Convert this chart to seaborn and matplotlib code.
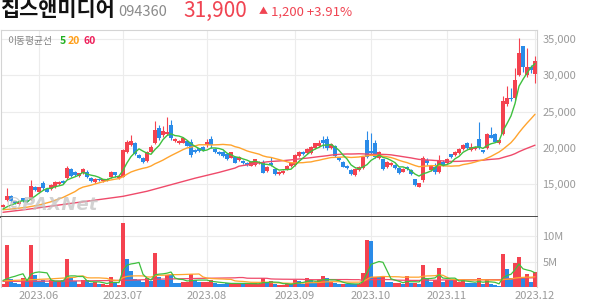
import numpy as np
import pandas as pd
import matplotlib
matplotlib.use("Agg")
import matplotlib.pyplot as plt
import seaborn as sns

# ---------------- data ----------------
opens = [11870, 12800, 13350, 12600, 12250, 13000, 12800, 12950, 14650, 13900,
         15150, 14300, 14300, 14600, 14950, 15400, 15800, 17100, 16650, 16100,
         16500, 16650, 15850, 15300, 15750, 15350, 15450, 15950, 16600, 15850,
         16000, 19350, 20400, 20650, 19000, 18650, 18200, 19450, 20650, 22700,
         21750, 21900, 23150, 20950, 20650, 20700, 20950, 20850, 19700, 19900,
         20150, 20400, 21200, 19850, 19400, 19400, 19150, 18650, 18750, 18300,
         18200, 17950, 17550, 17600, 17850, 18050, 16800, 17950, 17050, 16350,
         16500, 17050, 17450, 17650, 18850, 19450, 19300, 19300, 19950, 20200,
         21050, 21200, 19950, 20200, 18600, 18050, 17550, 16950, 16250, 16950,
         17200, 21000, 19550, 20700, 18600, 18400, 17350, 17600, 17650, 17200,
         16700, 17400, 16950, 15650, 14650, 15550, 18300, 16950, 17400, 16650,
         18100, 17850, 19100, 19000, 19250, 19800, 20700, 19700, 19850, 21200,
         19650, 19950, 21750, 21900, 20600, 21850, 26000, 26900, 26800, 30050,
         34050, 30050, 31100, 30200]
highs = [12250, 14450, 13450, 12700, 12500, 13100, 12900, 15550, 14750, 14650,
         15400, 14400, 14950, 15350, 15350, 15500, 17500, 17200, 16750, 16550,
         17150, 16950, 15950, 15800, 15850, 15750, 15800, 16750, 16700, 16250,
         19800, 21050, 21750, 20800, 19100, 18750, 19550, 20400, 23700, 23150,
         23050, 24200, 23850, 21400, 21050, 21500, 21050, 21200, 19800, 20000,
         20250, 21200, 21650, 19950, 19500, 19500, 19250, 19450, 18850, 18800,
         18300, 18050, 18200, 18500, 18200, 18300, 17500, 18700, 17150, 16750,
         16900, 17600, 17950, 19100, 19550, 19550, 19900, 20300, 20700, 21050,
         21600, 21650, 20600, 20350, 18700, 18150, 17650, 17050, 17150, 17500,
         18850, 22350, 22050, 21050, 19550, 18500, 18200, 18050, 17750, 17300,
         17150, 17500, 17050, 15750, 15200, 18850, 18550, 17650, 17850, 19000,
         18300, 18550, 19200, 19550, 19900, 20500, 20800, 20650, 20250, 23500,
         19750, 22000, 22900, 22000, 21150, 27200, 28550, 28200, 30950, 35100,
         34100, 33700, 31400, 32700]
lows = [11800, 12700, 12500, 12250, 12150, 12500, 12450, 12800, 14100, 13800,
        14200, 13850, 14200, 14500, 14850, 15050, 15700, 16000, 16150, 16000,
        16400, 15850, 15300, 15200, 15400, 15250, 15350, 15850, 15950, 15750,
        15900, 19250, 20300, 19000, 18550, 17950, 18100, 19350, 20550, 21050,
        21500, 21800, 21050, 20850, 20550, 20600, 20200, 18750, 19300, 19400,
        19600, 20150, 19950, 19300, 19050, 18750, 18350, 18550, 17850, 18200,
        17750, 17500, 17450, 17500, 17750, 16450, 16700, 17450, 16300, 16250,
        16400, 16950, 17350, 17550, 18750, 19050, 19200, 19200, 19850, 20050,
        20000, 19700, 19850, 18750, 18200, 17300, 17100, 16300, 16150, 16850,
        17100, 18600, 19200, 18550, 18500, 16950, 17250, 17500, 17100, 16400,
        16600, 16950, 16300, 14700, 14550, 15300, 17600, 16850, 16350, 16500,
        17450, 17750, 18650, 18900, 19150, 19700, 19850, 19600, 19750, 19850,
        19250, 19850, 21300, 20750, 20500, 21750, 25800, 26500, 26600, 29900,
        30500, 29800, 30300, 29000]
closes = [12150, 13350, 12650, 12350, 12450, 12600, 12550, 14750, 14200, 14550,
          14450, 13950, 14850, 15250, 15250, 15150, 17200, 16100, 16250, 16450,
          17050, 15950, 15400, 15700, 15500, 15650, 15700, 16600, 16300, 16150,
          19700, 20850, 20900, 19150, 18650, 18100, 19450, 20150, 22450, 21300,
          22300, 22200, 21350, 21250, 20950, 21300, 20300, 19000, 19400, 19500,
          19700, 20850, 20400, 19400, 19150, 18850, 18450, 19350, 17950, 18700,
          17850, 17600, 18100, 18400, 18100, 16550, 17400, 17600, 16400, 16650,
          16800, 17500, 17850, 19000, 19450, 19150, 19800, 20100, 20600, 20650,
          20600, 19900, 20500, 18900, 18300, 17400, 17200, 16400, 17050, 17400,
          18750, 18750, 19300, 18750, 19450, 17050, 18100, 17950, 17200, 16500,
          17050, 17050, 16400, 14850, 15100, 18650, 17850, 17550, 16700, 18200,
          17550, 18450, 18750, 19450, 19800, 20400, 19950, 20150, 20150, 19950,
          19350, 21900, 21400, 20850, 21050, 26450, 26900, 26700, 29350, 33050,
          31200, 31150, 30700, 31900]
volumes_m = [0.6, 8.2, 1.6, 0.85, 0.6, 1.7, 1.3, 8.2, 2.35, 1.2,
             1.3, 0.8, 1.3, 1.2, 1.2, 1.3, 5.5, 1.7, 1.2, 0.6,
             1.3, 1.3, 0.8, 1.0, 0.6, 0.6, 0.4, 1.9, 1.0, 0.4,
             12.6, 5.5, 3.1, 1.6, 1.3, 1.0, 1.7, 1.2, 6.7, 2.0,
             1.3, 2.35, 2.35, 0.8, 0.8, 1.0, 1.0, 2.5, 1.3, 1.0,
             1.0, 1.0, 1.3, 0.8, 0.6, 0.6, 0.7, 0.8, 0.8, 0.6,
             0.6, 0.7, 0.6, 0.7, 0.6, 1.7, 0.7, 1.2, 0.6, 0.4,
             0.4, 0.6, 0.6, 1.4, 1.2, 0.6, 1.7, 1.3, 0.8, 1.3,
             2.15, 1.7, 1.0, 0.8, 0.6, 0.6, 0.6, 0.6, 0.6, 0.6,
             2.8, 9.2, 9.0, 2.0, 2.0, 2.0, 1.0, 1.0, 0.8, 0.8,
             0.6, 2.15, 0.8, 0.8, 0.6, 4.3, 1.7, 1.0, 1.3, 3.8,
             1.0, 1.3, 1.3, 1.3, 1.0, 1.3, 0.8, 0.8, 0.8, 1.7,
             0.6, 1.3, 0.6, 0.4, 0.2, 6.5, 3.6, 1.8, 4.8, 5.8,
             1.8, 2.5, 0.9, 2.9]
vol_up = [1, 1, 0, 0, 0, 1, 0, 1, 0, 0,
          0, 0, 1, 0, 1, 0, 1, 0, 0, 1,
          1, 0, 0, 1, 0, 1, 1, 1, 0, 1,
          1, 0, 0, 0, 0, 0, 1, 0, 1, 0,
          0, 1, 0, 0, 0, 1, 1, 1, 0, 0,
          1, 1, 1, 0, 0, 0, 0, 1, 1, 1,
          0, 1, 1, 1, 1, 1, 0, 1, 0, 1,
          1, 1, 0, 1, 0, 0, 1, 0, 0, 1,
          1, 0, 1, 0, 0, 1, 0, 0, 0, 1,
          1, 1, 0, 1, 0, 1, 0, 0, 1, 1,
          0, 1, 0, 1, 0, 1, 0, 0, 1, 1,
          0, 1, 0, 1, 1, 1, 0, 0, 0, 1,
          0, 1, 0, 0, 0, 1, 0, 0, 1, 1,
          0, 1, 0, 1]

# moving-average values read at the left edge (history before the window)
ma5_head = [11550, 11850, 12100, 12300]                       # candles 0..3
ma20_head_idx = [0, 3, 6, 9, 12, 15, 18]
ma20_head = [11450, 11600, 11800, 12100, 12550, 13150, 13950]
ma60_head_idx = [0, 6, 12, 18, 24, 30, 36, 42, 48, 54, 58]
ma60_head = [11100, 11500, 11950, 12400, 12850, 13300, 14000, 14900, 15800, 16600, 17200]
vma5_head = [1.3, 1.6, 1.9, 2.1]
vma20_head_idx = [0, 6, 12, 18]
vma20_head = [1.2, 1.4, 1.6, 1.9]
vma60_head_idx = [0, 10, 20, 30, 40, 50, 58]
vma60_head = [1.1, 1.15, 1.2, 1.3, 1.55, 1.7, 1.8]

month_idx = [9, 30, 51, 73, 92, 111, 133]
month_labels = ["2023.06", "2023.07", "2023.08", "2023.09", "2023.10", "2023.11", "2023.12"]
price_ticks = [15000, 20000, 25000, 30000, 35000]
vol_ticks_m = [5, 10]
vol_tick_labels = ["5M", "10M"]

stock_name = "칩스앤미디어"
stock_code = "094360"
last_price = "31,900"
change_text = "1,200 +3.91%"

# ---------------- style ----------------
sns.set_style("white")
plt.rcParams["font.family"] = ["Noto Sans CJK KR", "DejaVu Sans"]

RED = "#f4424f"
BLUE = "#2a8be8"
C5 = "#3fc03f"
C20 = "#ffa42e"
C60 = "#ef4a6a"
GRID = "#ececec"
FRAME = "#d4d4d4"
LBL = "#9a9a9a"

W, H = 594, 304
fig = plt.figure(figsize=(W / 100, H / 100), dpi=100)
fig.patch.set_facecolor("white")


def fx(px):
    return px / W


def fy(py):
    return 1 - py / H


L, R, T, MID, B = 1, 537, 30, 217, 287
axp = fig.add_axes([fx(L), fy(MID), fx(R - L), (MID - T) / H])
axv = fig.add_axes([fx(L), fy(B), fx(R - L), (B - MID) / H], sharex=axp)

N = len(closes)
idx = np.arange(N)
o = np.array(opens, float)
h = np.array(highs, float)
l = np.array(lows, float)
c = np.array(closes, float)
up = c >= o
cols = np.where(up, RED, BLUE)

# ---------------- moving averages ----------------
cs = pd.Series(c)
ma5 = cs.rolling(5).mean().to_numpy()
ma5[:4] = ma5_head
ma20 = cs.rolling(20).mean().to_numpy()
ma60 = cs.rolling(60).mean().to_numpy()


def join(head_idx, head_vals, full, start):
    x = list(head_idx) + list(range(start, N))
    y = list(head_vals) + list(full[start:])
    return pd.DataFrame({"x": x, "y": y})


df5 = pd.DataFrame({"x": idx, "y": ma5})
df20 = join(ma20_head_idx, ma20_head, ma20, 19)
df60 = join(ma60_head_idx, ma60_head, ma60, 59)

v = np.array(volumes_m, float)
vs = pd.Series(v)
vma5 = vs.rolling(5).mean().to_numpy()
vma5[:4] = vma5_head
vma20 = vs.rolling(20).mean().to_numpy()
vma60 = vs.rolling(60).mean().to_numpy()
dv5 = pd.DataFrame({"x": idx, "y": vma5})
dv20 = join(vma20_head_idx, vma20_head, vma20, 19)
dv60 = join(vma60_head_idx, vma60_head, vma60, 59)

# ---------------- price pane ----------------
axp.set_xlim(-0.5, N - 0.5)
pmin = 35000 - (MID - 39) * 5000 / 36.25
pmax = 35000 + (39 - T) * 5000 / 36.25
axp.set_ylim(pmin, pmax)

for m in month_idx:
    axp.axvline(m, color=GRID, lw=0.8, zorder=0)
    axv.axvline(m, color=GRID, lw=0.8, zorder=0)
for p in price_ticks:
    axp.axhline(p, color=GRID, lw=0.8, zorder=0)

axp.vlines(idx, l, h, colors=cols, lw=0.8, zorder=2)
body = np.maximum(np.abs(c - o), 60)
axp.bar(idx, body, bottom=np.minimum(o, c), width=0.8, color=cols,
        linewidth=0, zorder=3)

sns.lineplot(data=df60, x="x", y="y", ax=axp, color=C60, lw=1.0, zorder=4)
sns.lineplot(data=df20, x="x", y="y", ax=axp, color=C20, lw=1.0, zorder=4)
sns.lineplot(data=df5, x="x", y="y", ax=axp, color=C5, lw=1.0, zorder=5)

axp.yaxis.tick_right()
axp.set_yticks(price_ticks)
axp.set_yticklabels([f"{t:,}" for t in price_ticks])
axp.tick_params(axis="y", length=0, pad=4, labelsize=8, labelcolor=LBL)
axp.tick_params(axis="x", length=0, labelbottom=False)
axp.set_xlabel("")
axp.set_ylabel("")
for s in ["left", "right", "top"]:
    axp.spines[s].set_color(FRAME)
    axp.spines[s].set_linewidth(0.8)
axp.spines["bottom"].set_color("#3a3a3a")
axp.spines["bottom"].set_linewidth(1.3)
axp.spines["bottom"].set_zorder(6)

axp.text(fx(5), fy(205), "©PAXNet", transform=fig.transFigure, fontsize=13,
         fontweight="bold", fontstyle="italic", color="#c4c4c4", alpha=0.75,
         va="center", ha="left", family=["DejaVu Sans"], zorder=7)

# ---------------- volume pane ----------------
vcols = np.where(np.array(vol_up) == 1, RED, BLUE)
axv.bar(idx, v, width=0.8, color=vcols, linewidth=0, zorder=2)
sns.lineplot(data=dv60, x="x", y="y", ax=axv, color=C60, lw=0.9, zorder=3)
sns.lineplot(data=dv20, x="x", y="y", ax=axv, color=C20, lw=0.9, zorder=3)
sns.lineplot(data=dv5, x="x", y="y", ax=axv, color=C5, lw=0.9, zorder=4)
vtop = (B - MID) * 5 / 25.5
axv.set_ylim(0, vtop)
for t in vol_ticks_m:
    axv.axhline(t, color=GRID, lw=0.8, zorder=0)
axv.yaxis.tick_right()
axv.set_yticks(vol_ticks_m)
axv.set_yticklabels(vol_tick_labels)
axv.tick_params(axis="y", length=0, pad=4, labelsize=8, labelcolor=LBL)
axv.set_xticks(month_idx)
axv.set_xticklabels(month_labels)
axv.tick_params(axis="x", length=0, pad=3, labelsize=8, labelcolor=LBL)
axv.set_xlabel("")
axv.set_ylabel("")
for s in ["left", "right"]:
    axv.spines[s].set_color(FRAME)
    axv.spines[s].set_linewidth(0.8)
axv.spines["top"].set_visible(False)
axv.spines["bottom"].set_visible(False)

# ---------------- header texts ----------------
fig.text(fx(0), fy(10), stock_name, fontsize=15, fontweight="bold",
         color="#111111", va="center", ha="left")
fig.text(fx(118), fy(12), stock_code, fontsize=10.5, color="#8a8a8a",
         va="center", ha="left")
fig.text(fx(183), fy(11), last_price, fontsize=15, color="#f04452",
         va="center", ha="left")
fig.text(fx(259), fy(12), "▲", fontsize=6.5, color="#f04452",
         va="center", ha="left")
fig.text(fx(271), fy(12), change_text, fontsize=9.5, color="#f04452",
         va="center", ha="left")

fig.text(fx(7), fy(41), "이동평균선", fontsize=7, color="#808080",
         va="center", ha="left")
fig.text(fx(60), fy(41), "5", fontsize=7.5, color="#22b022",
         fontweight="bold", va="center", ha="left")
fig.text(fx(68), fy(41), "20", fontsize=7.5, color="#ff9f1a",
         fontweight="bold", va="center", ha="left")
fig.text(fx(83), fy(41), "60", fontsize=7.5, color="#ee1f5a",
         fontweight="bold", va="center", ha="left")

fig.savefig("out.png", dpi=100, facecolor="white")
